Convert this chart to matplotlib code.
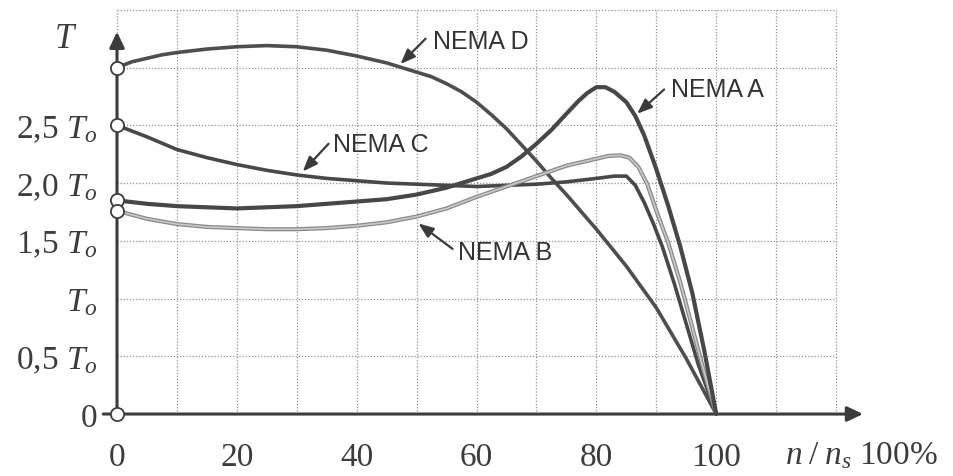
import matplotlib
matplotlib.use("Agg")
import matplotlib.pyplot as plt

plt.rcParams['mathtext.fontset'] = 'custom'
plt.rcParams['mathtext.rm'] = 'Liberation Serif'
plt.rcParams['mathtext.it'] = 'Liberation Serif:italic'

# data (x in % of n_s, T in units of To)
a_x = [0, 5, 10, 15, 20, 25, 30, 35, 40, 45, 50, 55, 60, 62.5, 65, 67.5, 70, 72.5,
       75, 77, 78.5, 80, 81.5, 83, 85, 86.5, 88, 90, 92, 94, 96, 98, 100]
a_t = [1.85, 1.82, 1.80, 1.79, 1.78, 1.79, 1.80, 1.82, 1.84, 1.86, 1.90, 1.96, 2.04,
       2.08, 2.14, 2.23, 2.34, 2.46, 2.60, 2.71, 2.78, 2.83, 2.83, 2.79, 2.70, 2.58,
       2.41, 2.12, 1.80, 1.45, 1.05, 0.55, 0]

b_x = [0, 5, 10, 15, 20, 25, 30, 35, 40, 45, 50, 55, 60, 65, 70, 75, 80, 82, 84,
       85.5, 87, 88.5, 90, 92, 94, 96, 98, 100]
b_t = [1.76, 1.69, 1.645, 1.62, 1.61, 1.60, 1.60, 1.61, 1.63, 1.66, 1.71, 1.78, 1.88,
       1.97, 2.06, 2.15, 2.21, 2.235, 2.24, 2.22, 2.14, 1.99, 1.76, 1.48, 1.14, 0.75,
       0.36, 0]

c_x = [0, 5, 10, 15, 20, 25, 30, 35, 40, 45, 50, 55, 60, 65, 70, 75, 80, 83, 85,
       86.5, 88, 89.5, 91, 93, 95, 97, 100]
c_t = [2.5, 2.40, 2.29, 2.22, 2.16, 2.11, 2.07, 2.04, 2.02, 2.0, 1.99, 1.98, 1.97,
       1.98, 1.99, 2.01, 2.04, 2.06, 2.06, 1.98, 1.83, 1.65, 1.45, 1.13, 0.78, 0.43, 0]

d_x = [0, 2.5, 5, 7.5, 10, 15, 20, 25, 30, 35, 40, 45, 50, 52.5, 55, 57.5, 60, 62.5,
       65, 67.5, 70, 72.5, 75, 77.5, 80, 85, 90, 95, 100]
d_t = [3.0, 3.05, 3.08, 3.11, 3.13, 3.16, 3.18, 3.19, 3.18, 3.15, 3.10, 3.04, 2.96,
       2.92, 2.86, 2.79, 2.70, 2.59, 2.47, 2.33, 2.19, 2.04, 1.90, 1.75, 1.60, 1.28,
       0.92, 0.48, 0]

x_ticks = [0, 20, 40, 60, 80, 100]
y_ticks = [0, 0.5, 1.0, 1.5, 2.0, 2.5]
y_labels = ['0', '0,5 $T_o$', '$T_o$', '1,5 $T_o$', '2,0 $T_o$', '2,5 $T_o$']

# label text, text position, arrow tail, arrow head
notes = [
    ('NEMA D', (52.7, 3.23), (51.5, 3.25), (47.3, 3.03)),
    ('NEMA C', (36.1, 2.34), (35.3, 2.34), (31.0, 2.10)),
    ('NEMA A', (92.5, 2.81), (91.3, 2.81), (86.8, 2.60)),
    ('NEMA B', (56.9, 1.40), (56.0, 1.43), (50.3, 1.65)),
]

ink = '#3c3c3c'
serif = 'Liberation Serif'

fig = plt.figure(figsize=(9.54, 4.77), dpi=100)
ax = fig.add_axes([0.1038, 0.1178, 0.804, 0.8717])
ax.set_xlim(-3, 125)
ax.set_ylim(-0.05, 3.55)
ax.axis('off')

# dotted grid
gcol = '#8e929c'
for gx in range(0, 121, 10):
    ax.plot([gx, gx], [0, 3.5], ls=(0, (1, 1.5)), color=gcol, lw=0.9, zorder=1)
for gy in [0.5, 1.0, 1.5, 2.0, 2.5, 3.0, 3.5]:
    ax.plot([0, 120], [gy, gy], ls=(0, (1, 1.5)), color=gcol, lw=0.9, zorder=1)

# axes with arrows
arr = dict(arrowstyle='-|>,head_length=0.95,head_width=0.45', lw=2.2, color=ink,
           mutation_scale=10, shrinkA=0, shrinkB=0)
ax.annotate('', xy=(124.5, 0), xytext=(-2.3, 0), arrowprops=arr, zorder=3)
ax.annotate('', xy=(0, 3.31), xytext=(0, 0), arrowprops=arr, zorder=3)

# curves
kw = dict(solid_capstyle='round', solid_joinstyle='round')
ax.plot(d_x, d_t, color='#4e4e4e', lw=2.6, zorder=4, **kw)
ax.plot(c_x, c_t, color='#484848', lw=2.6, zorder=4, **kw)
ax.plot(b_x, b_t, color='#8a8a8a', lw=3.0, zorder=5, **kw)
ax.plot(b_x, b_t, color='#c9c9c9', lw=1.2, zorder=5, **kw)
ax.plot(a_x, a_t, color='#474747', lw=3.0, zorder=6, **kw)

# open circles on the T axis
starts = [d_t[0], c_t[0], a_t[0], b_t[0], 0]
ax.plot([0] * len(starts), starts, 'o', ms=9.5, mfc='white', mec=ink, mew=1.3,
        zorder=7, clip_on=False)

# annotations
for label, txy, tail, head in notes:
    ax.text(txy[0], txy[1], label, family='Liberation Sans', fontsize=18,
            color='#333333', ha='left', va='center', zorder=8)
    ax.annotate('', xy=head, xytext=tail,
                arrowprops=dict(arrowstyle='-|>,head_length=0.9,head_width=0.35',
                                lw=1.6, color='#3a3a3a', mutation_scale=10,
                                shrinkA=0, shrinkB=0), zorder=8)

# tick labels
for v in x_ticks:
    ax.text(v, -0.37, str(v), family=serif, fontsize=24, color=ink,
            ha='center', va='center', clip_on=False)
for v, lab in zip(y_ticks, y_labels):
    ax.text(-3.2, v, lab, family=serif, fontsize=24, color=ink,
            ha='right', va='center_baseline', clip_on=False)

ax.text(-8.5, 3.25, '$T$', family=serif, fontsize=25, color=ink,
        ha='center', va='center', clip_on=False)
ax.text(111.5, -0.35, r'$n\;/\;n_s$ 100%', family=serif, fontsize=24, color=ink,
        ha='left', va='center', clip_on=False)

fig.savefig('out.png', dpi=100, facecolor='white')
